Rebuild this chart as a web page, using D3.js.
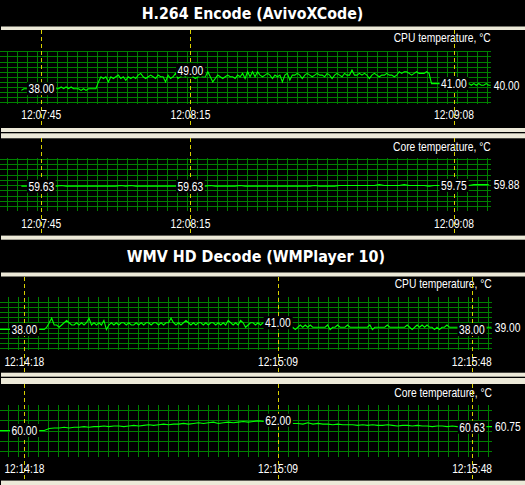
<!DOCTYPE html>
<html><head><meta charset="utf-8">
<script src="https://cdn.jsdelivr.net/npm/d3@7"></script>
<style>html,body{margin:0;padding:0;background:#000;overflow:hidden}</style>
</head><body>
<svg id="c" width="525" height="485"></svg>
<script>
// ---------------- data ----------------
const titles = ["H.264 Encode (AvivoXCode)", "WMV HD Decode (WMPlayer 10)"];
const seriesNames = ["CPU temperature, °C", "Core temperature, °C"];

const h264Window = ["12:07:36.7", "12:09:15.4"];
const wmvWindow = ["12:14:13.1", "12:15:52.0"];
const h264MarkerTimes = ["12:07:45", "12:08:15", "12:09:08"];
const wmvMarkerTimes = ["12:14:18", "12:15:09", "12:15:48"];

const h264CpuStart = "12:07:41", h264CpuStep = 0.5;
const h264CpuTemp = [
37,38,38,38,38,38,38,38,38,38,38,38,38,38,
38,38,39,38,39,38,39,38,38,38,37,38,37,38,38,38,38,42,
45,44,45,42,45,44,45,46,44,45,
43,45,44,45,44,46,47,45,44,45,
46,45,44,46,45,45,42,46,44,45,
47,44,45,46,45,47,49,45,44,45,
46,45,45,48,45,42,44,46,45,44,
45,46,45,45,44,46,45,47,44,48,
45,48,45,48,46,45,46,47,46,44,
46,45,46,42,46,47,43,46,46,47,
46,44,46,47,46,45,46,47,46,46,
45,47,46,44,46,47,46,45,47,46,
46,49,46,46,47,46,47,46,44,46,
47,46,45,46,46,47,46,46,45,46,
48,47,48,48,47,46,47,48,47,47,
47,48,47,
41,41,41,41,41,41,41,41,41,41,41,41,41,41,
40,41,40,41,40,41,40,40,41,40,40
];
const h264CpuMarkValues = [38, 49, 41];
const h264CpuNow = 40;

const h264CoreStart = "12:07:41", h264CoreStep = 1;
const h264CoreTemp = [
59.63,59.63,59.63,59.63,59.63,59.63,59.63,59.63,
59.75,
59.63,59.63,59.63,59.63,59.63,59.63,59.63,59.63,59.63,59.63,59.63,
59.75,59.63,59.75,
59.63,59.63,59.63,59.63,59.63,59.63,59.63,59.63,59.63,59.63,59.63,59.63,59.63,59.63,59.63,
59.75,
59.63,59.63,59.63,59.63,59.63,
59.75,
59.63,59.63,59.63,59.63,59.63,59.63,59.63,59.63,59.63,59.63,59.63,59.63,59.63,59.63,
59.75,
59.63,59.63,59.63,59.63,
59.75,59.75,59.75,59.75,59.75,59.75,59.75,59.75,
59.88,
59.75,59.75,59.75,59.75,
59.88,
59.75,59.75,59.75,59.75,
59.63,
59.75,59.75,59.75,59.75,59.75,59.75,59.75,59.75,
59.88,59.88,59.88,59.88
];
const h264CoreMarkValues = [59.63, 59.63, 59.75];
const h264CoreNow = 59.88;

const wmvCpuStart = "12:14:13", wmvCpuStep = 0.5;
const wmvCpuTemp = [
38,38,38,38,38,38,38,38,38,38,38,38,38,38,38,38,38,38,38,39,
41,43,40,40,39,40,41,42,41,40,
40,41,40,41,40,41,43,40,41,40,
41,40,42,38,40,41,40,41,40,41,
41,40,41,40,40,41,40,41,40,41,
41,40,41,41,40,41,40,41,41,43,
41,40,41,40,41,42,41,40,41,40,
41,41,40,41,40,41,41,40,41,40,
41,40,42,41,40,41,40,42,41,39,
40,41,41,40,41,40,41,41,40,41,
41,41,41,41,41,41,40,39,
39,38,39,40,39,40,39,40,39,39,
39,39,39,39,40,38,39,39,40,39,
39,39,40,39,39,39,39,39,39,39,
39,40,38,39,39,39,39,39,40,39,
39,39,39,39,39,39,40,39,38,39,
40,39,40,39,40,39,39,38,39,38,
39,39,40,39,39,39,39,39,39,39,
39,38,38,38,39,39,39,39,39,39,
39
];
const wmvCpuMarkValues = [38, 41, 38];
const wmvCpuNow = 39;

const wmvCoreStart = "12:14:13", wmvCoreStep = 1;
const wmvCoreTemp = [
60.00,60.00,60.00,60.00,60.00,60.00,60.00,60.00,60.00,60.00,
60.38,60.50,60.50,60.63,60.50,60.63,60.63,60.75,60.63,60.75,
60.75,60.88,60.75,60.88,60.88,60.75,60.88,61.00,60.88,61.00,
61.13,61.00,61.13,61.25,61.13,61.25,61.25,61.38,61.25,61.38,
61.50,61.38,61.50,61.63,61.38,61.50,61.63,61.50,61.63,61.75,
61.63,61.75,61.88,61.75,61.88,61.88,62.00,61.88,61.50,61.38,
61.38,61.25,61.50,61.25,61.38,61.25,61.25,61.13,61.25,61.13,
61.13,61.13,61.00,61.13,61.00,61.13,61.00,61.00,61.13,61.00,
60.88,61.00,61.00,60.88,61.00,60.88,60.88,60.75,60.88,60.88,
60.75,60.88,60.75,60.75,60.63,60.63,60.75,60.75,60.75,60.75
];
const wmvCoreMarkValues = [60.00, 62.00, 60.63];
const wmvCoreNow = 60.75;

// ---------------- helpers ----------------
const secs = s => { const p = s.split(":"); return +p[0]*3600 + +p[1]*60 + +p[2]; };
const fmt = d3.format(".2f");
const SX = 0.79;
const FONT = "'Liberation Sans', Arial, sans-serif";
const svg = d3.select("#c");
const BEIGE = "#ece9d8";

// ---------------- chrome (bars / titles) ----------------
const bars = [
  [26.5, 3.5], [128, 4], [133.3, 5], [235.6, 4.1],
  [272.5, 4], [372.7, 4], [378, 6], [480.6, 4.4]
];
svg.selectAll("rect.bar").data(bars).join("rect").attr("class","bar")
  .attr("x", 1).attr("y", d => d[0]).attr("width", 524).attr("height", d => d[1])
  .attr("fill", BEIGE);

const titleLayout = [{x: 252.5, y: 19, w: 221.7}, {x: 255.8, y: 261.7, w: 258.3}];
titles.forEach((t, i) => {
  svg.append("text").attr("x", titleLayout[i].x).attr("y", titleLayout[i].y)
    .attr("text-anchor", "middle").attr("fill", "#fff")
    .attr("font-family", "'DejaVu Sans', Verdana, sans-serif").attr("font-weight", "bold")
    .attr("font-size", 16).attr("textLength", titleLayout[i].w)
    .attr("lengthAdjust", "spacingAndGlyphs").text(t);
});

// ---------------- panels ----------------
const panels = [
  {win: h264Window, marks: h264MarkerTimes, start: h264CpuStart, step: h264CpuStep, values: h264CpuTemp,
   markVals: h264CpuMarkValues, now: h264CpuNow, name: seriesNames[0], yDomain: [30, 60],
   L: {top: 30, bottom: 128, gT: 51.3, gB: 102.3, rows: 11, vT: 51, vB: 104, right: 490.7, v0: 7.3, nameY: 41.7, timeY: 119.3}},
  {win: h264Window, marks: h264MarkerTimes, start: h264CoreStart, step: h264CoreStep, values: h264CoreTemp,
   markVals: h264CoreMarkValues, now: h264CoreNow, name: seriesNames[1], yDomain: [56.25, 64.25],
   L: {top: 138.3, bottom: 235.6, gT: 159, gB: 206, rows: 10, vT: 158.3, vB: 211, right: 490.7, v0: 7.3, nameY: 151, timeY: 227.7}},
  {win: wmvWindow, marks: wmvMarkerTimes, start: wmvCpuStart, step: wmvCpuStep, values: wmvCpuTemp,
   markVals: wmvCpuMarkValues, now: wmvCpuNow, name: seriesNames[0], yDomain: [30, 50],
   L: {top: 276.5, bottom: 372.7, gT: 302.3, gB: 347.7, rows: 10, vT: 297.3, vB: 350, right: 491.7, v0: 8.3, nameY: 288.3, timeY: 365.7}},
  {win: wmvWindow, marks: wmvMarkerTimes, start: wmvCoreStart, step: wmvCoreStep, values: wmvCoreTemp,
   markVals: wmvCoreMarkValues, now: wmvCoreNow, name: seriesNames[1], yDomain: [56, 64],
   L: {top: 384, bottom: 480.6, gT: 410, gB: 451, rows: 5, vT: 405, vB: 456.7, right: 492, v0: 8.3, nameY: 397.3, timeY: 473.3}}
];

const px = v => Math.round(v) + 0.5;

function smallText(g, x, y, txt, anchor, dy) {
  const grp = g.append("g").attr("transform", `translate(${x},${y})`);
  const rect = grp.append("rect").attr("fill", "#000");
  const t = grp.append("text").attr("transform", `scale(${SX},1)`)
    .attr("text-anchor", anchor).attr("dy", dy || 0)
    .attr("fill", "#fff").attr("font-family", FONT).attr("font-size", 13).text(txt);
  return {grp, rect, t};
}

panels.forEach((p, pi) => {
  const L = p.L;
  const g = svg.append("g");
  const x = d3.scaleLinear().domain(p.win.map(secs)).range([0, L.right]);
  const y = d3.scaleLinear().domain(p.yDomain).range([L.gB, L.gT]);

  // grid
  const rowScale = d3.scaleLinear().domain([0, L.rows - 1]).range([L.gT, L.gB]);
  g.selectAll("line.h").data(d3.range(L.rows)).join("line").attr("class", "h")
    .attr("x1", 0).attr("x2", L.right).attr("y1", d => px(rowScale(d))).attr("y2", d => px(rowScale(d)))
    .attr("stroke", "#008000").attr("stroke-width", 1).attr("shape-rendering", "crispEdges");
  const colScale = d3.scaleLinear().domain([0, 48]).range([L.v0, L.v0 + 480]);
  g.selectAll("line.v").data(d3.range(49)).join("line").attr("class", "v")
    .attr("y1", L.vT).attr("y2", L.vB).attr("x1", d => px(colScale(d))).attr("x2", d => px(colScale(d)))
    .attr("stroke", "#008000").attr("stroke-width", 1).attr("shape-rendering", "crispEdges");

  // series name
  smallText(g, L.right, L.nameY, p.name, "end").rect.remove();

  // marker dashed lines
  const mx = p.marks.map(m => x(secs(m)));
  g.selectAll("line.m").data(mx).join("line").attr("class", "m")
    .attr("x1", d => px(d)).attr("x2", d => px(d)).attr("y1", L.top).attr("y2", L.bottom)
    .attr("stroke", "#d8d000").attr("stroke-width", 1).attr("stroke-dasharray", "4,3")
    .attr("shape-rendering", "crispEdges");

  // data line
  const clipId = "clip" + pi;
  svg.append("clipPath").attr("id", clipId).append("rect")
    .attr("x", 0).attr("y", L.top).attr("width", L.right).attr("height", L.bottom - L.top);
  const t0 = secs(p.start);
  const line = d3.line().x((d, i) => x(t0 + i * p.step)).y(d => y(d));
  g.append("path").attr("d", line(p.values)).attr("clip-path", `url(#${clipId})`)
    .attr("fill", "none").attr("stroke", "#00ff00").attr("stroke-width", 1.1)
    .attr("stroke-linejoin", "miter");

  // time labels
  p.marks.forEach((m, i) => {
    smallText(g, mx[i], L.timeY, m, "middle").rect.remove();
  });

  // value labels at markers
  p.markVals.forEach((v, i) => {
    const o = smallText(g, mx[i], y(v), fmt(v), "middle", "0.36em");
    const b = o.t.node().getBBox();
    o.rect.attr("x", b.x * SX - 1.5).attr("width", b.width * SX + 3)
      .attr("y", -6.5).attr("height", 13);
  });

  // current value on the right
  smallText(g, L.right + 3, y(p.now), fmt(p.now), "start", "0.36em").rect.remove();
});
</script>
</body></html>
